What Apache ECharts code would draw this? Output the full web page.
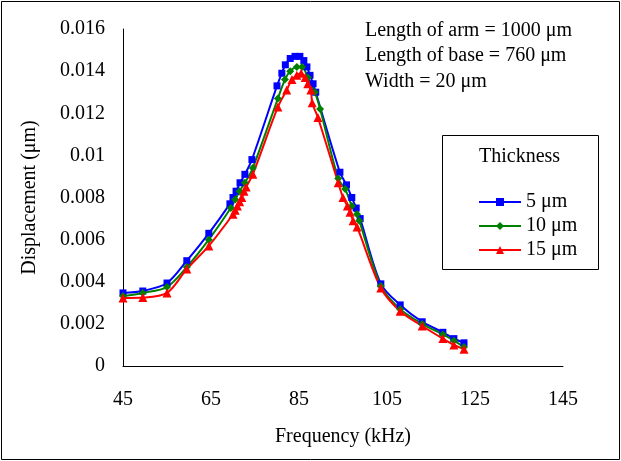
<!DOCTYPE html>
<html>
<head>
<meta charset="utf-8">
<script src="https://cdn.jsdelivr.net/npm/echarts@6/dist/echarts.min.js"></script>
<style>
  html, body { margin: 0; padding: 0; background: #fff; }
  #chart { width: 621px; height: 461px; }
</style>
</head>
<body>
<div id="chart"></div>
<script>
// frequency (kHz) and displacement (um)
var freq5 = [45, 49.5, 55, 59.5, 64.5, 69.3, 70, 70.7, 71.6, 72.7, 74.3, 80, 81.1, 81.9, 83, 84.1, 85.2, 86.1, 86.8, 87.5, 88.2, 88.8, 94.3, 95.8, 97, 98, 98.9, 103.6, 108, 113, 117.7, 120.2, 122.5]
var disp5 = [0.00347, 0.00356, 0.00394, 0.0050, 0.0063, 0.0077, 0.0080, 0.0083, 0.0087, 0.0091, 0.0098, 0.0133, 0.0139, 0.0143, 0.0146, 0.0147, 0.0147, 0.0145, 0.0142, 0.0138, 0.0134, 0.0130, 0.0092, 0.0086, 0.0080, 0.0075, 0.0070, 0.0039, 0.0029, 0.0021, 0.0016, 0.0013, 0.0011]

var freq10 = [45, 49.5, 55, 59.5, 64.5, 69.5, 70.5, 71.5, 72.7, 74.5, 80.2, 81.8, 83, 84.5, 85.7, 87, 88.6, 89.8, 93.9, 95.5, 97, 98.2, 98.7, 103.6, 108, 113, 117.7, 120.2, 122.5]
var disp10 = [0.00332, 0.00347, 0.00375, 0.0047, 0.0060, 0.0075, 0.0079, 0.0083, 0.0087, 0.0094, 0.0127, 0.0136, 0.0140, 0.0142, 0.0142, 0.0137, 0.0130, 0.0122, 0.0089, 0.0084, 0.0076, 0.0072, 0.0069, 0.0038, 0.0027, 0.0020, 0.0015, 0.0012, 0.0009]

var freq15 = [45, 49.5, 55, 59.5, 64.5, 70, 70.5, 71, 71.5, 72, 72.5, 73, 74.5, 80.2, 82.2, 83.4, 84.5, 85.5, 86.4, 87, 87.7, 88, 89.3, 93.9, 95, 96, 96.6, 97.3, 98.2, 103.6, 108, 113, 117.7, 120.2, 122.5]
var disp15 = [0.00323, 0.00325, 0.00347, 0.0046, 0.0057, 0.0072, 0.0074, 0.0076, 0.0078, 0.0080, 0.0083, 0.0085, 0.0091, 0.0123, 0.0131, 0.0136, 0.0138, 0.0139, 0.0137, 0.0134, 0.0131, 0.0125, 0.0118, 0.0087, 0.0080, 0.0076, 0.0073, 0.0069, 0.0066, 0.0037, 0.0026, 0.0019, 0.0013, 0.0010, 0.0008]

var seriesNames = ['5 μm', '10 μm', '15 μm']
var notes = ['Length of arm = 1000 μm', 'Length of base = 760 μm', 'Width = 20 μm']

function pairs(xs, ys) {
  return xs.map(function(x, i) { return [x, ys[i]] })
}

var font = 'Liberation Serif, Times New Roman, serif'

function makeSeries(name, color, symbol, size, xs, ys) {
  return {
    name: name,
    type: 'line',
    smooth: 0.3,
    symbol: symbol,
    symbolSize: size,
    itemStyle: { color: color },
    lineStyle: { color: color, width: 2 },
    data: pairs(xs, ys)
  }
}

var chart = echarts.init(document.getElementById('chart'))
var option = {
  animation: false,
  color: ['#0000ff', '#008000', '#ff0000'],
  grid: { left: 123, top: 29, right: 58, bottom: 95 },
  xAxis: {
    type: 'value',
    min: 45,
    max: 145,
    interval: 20,
    name: 'Frequency (kHz)',
    nameLocation: 'middle',
    nameGap: 61,
    nameTextStyle: { fontFamily: font, fontSize: 20, color: '#000', verticalAlign: 'top' },
    axisLine: { lineStyle: { color: '#000', width: 1 } },
    axisTick: { show: false },
    axisLabel: { margin: 24, fontFamily: font, fontSize: 20, color: '#000' },
    splitLine: { show: false }
  },
  yAxis: {
    type: 'value',
    min: 0,
    max: 0.016,
    interval: 0.002,
    name: 'Displacement (μm)',
    nameLocation: 'middle',
    nameGap: 83,
    nameTextStyle: { fontFamily: font, fontSize: 20, color: '#000' },
    axisLine: { show: true, lineStyle: { color: '#000', width: 1 } },
    axisTick: { show: false },
    axisLabel: { margin: 18, fontFamily: font, fontSize: 20, color: '#000' },
    splitLine: { show: false }
  },
  legend: {
    orient: 'vertical',
    left: 473,
    top: 187,
    itemWidth: 42,
    itemHeight: 10,
    itemGap: 4,
    textStyle: { fontFamily: font, fontSize: 20, color: '#000' },
    data: seriesNames
  },
  graphic: [
    { type: 'rect', shape: { x: 1.5, y: 1.5, width: 618, height: 458 }, style: { fill: 'none', stroke: '#000', lineWidth: 1 } },
    { type: 'rect', shape: { x: 442.5, y: 135.5, width: 156, height: 134 }, style: { fill: 'none', stroke: '#000', lineWidth: 1 } },
    { type: 'text', left: 479, top: 147, style: { text: 'Thickness', font: '20px ' + font, fill: '#000' } },
    { type: 'text', left: 365, top: 21, style: { text: notes[0], font: '20px ' + font, fill: '#000' } },
    { type: 'text', left: 365, top: 46, style: { text: notes[1], font: '20px ' + font, fill: '#000' } },
    { type: 'text', left: 365, top: 72, style: { text: notes[2], font: '20px ' + font, fill: '#000' } }
  ],
  series: [
    makeSeries(seriesNames[0], '#0000ff', 'rect', 7, freq5, disp5),
    makeSeries(seriesNames[1], '#008000', 'diamond', 8, freq10, disp10),
    makeSeries(seriesNames[2], '#ff0000', 'triangle', 9, freq15, disp15)
  ]
}
chart.setOption(option)
window.addEventListener('resize', function() {
  chart.resize()
})
</script>
</body>
</html>
